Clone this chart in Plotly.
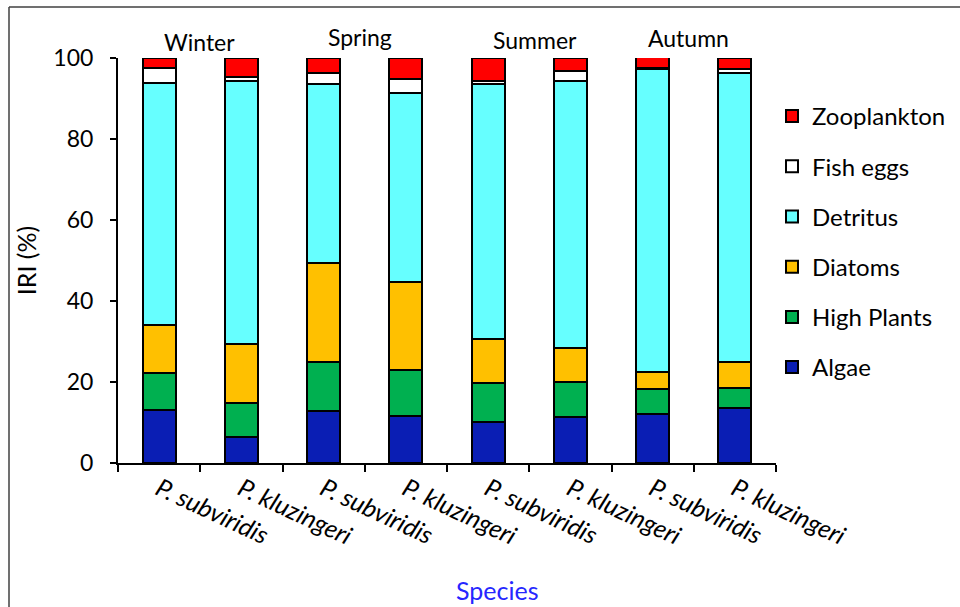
import plotly.graph_objects as go

species = ["P. subviridis", "P. kluzingeri", "P. subviridis ", "P. kluzingeri ",
           "P. subviridis  ", "P. kluzingeri  ", "P. subviridis   ", "P. kluzingeri   "]
seasons = ["Winter", "Spring", "Summer", "Autumn"]

algae = [13.1, 6.5, 12.8, 11.6, 10.2, 11.3, 12.0, 13.5]
high_plants = [9.2, 8.2, 12.1, 11.4, 9.6, 8.8, 6.2, 5.1]
diatoms = [11.8, 14.8, 24.4, 21.8, 10.8, 8.4, 4.3, 6.4]
detritus = [59.8, 64.7, 44.2, 46.6, 62.9, 65.7, 74.8, 71.2]
fish_eggs = [3.7, 1.2, 2.7, 3.3, 0.8, 2.6, 0.3, 1.2]
zooplankton = [2.4, 4.6, 3.8, 5.3, 5.7, 3.2, 2.7, 2.6]

series = [
    ("Algae", algae, "#0A1EB4"),
    ("High Plants", high_plants, "#00B050"),
    ("Diatoms", diatoms, "#FFC000"),
    ("Detritus", detritus, "#66FFFF"),
    ("Fish eggs", fish_eggs, "#FFFFFF"),
    ("Zooplankton", zooplankton, "#FF0000"),
]

FONT = "Lato"
fig = go.Figure()
n = len(series)
for i, (name, vals, col) in enumerate(series):
    fig.add_trace(go.Bar(
        x=species, y=vals, name=name, legendgroup=name, legendrank=n - i,
        marker=dict(color=col, line=dict(color="black", width=2)),
    ))

W, H = 960, 607
L, R, T, B = 118, 184, 58, 144
pw, ph = W - L - R, H - T - B
def px(x):
    return (x - L) / pw
def py(y):
    return (H - B - y) / ph

season_px = [199, 360, 535, 688]
season_py = [42, 37, 40, 38]
for s, sx, sy in zip(seasons, season_px, season_py):
    fig.add_annotation(text=s, x=px(sx), y=py(sy), xref="paper", yref="paper",
                       xanchor="center", yanchor="middle",
                       showarrow=False, font=dict(family=FONT, size=23, color="black"))

# x-axis title (placed right of centre, as in the original)
fig.add_annotation(text="Species", x=px(497), y=py(590), xref="paper", yref="paper",
                   xanchor="center", yanchor="middle", showarrow=False,
                   font=dict(family=FONT, size=25, color="#2626FF"))

# outer chart frame (left and top edges visible)
fig.add_shape(type="line", xref="paper", yref="paper", x0=px(9), x1=px(960), y0=py(7), y1=py(7),
              line=dict(color="#404040", width=1.5))
fig.add_shape(type="line", xref="paper", yref="paper", x0=px(9), x1=px(9), y0=py(7), y1=py(607),
              line=dict(color="#404040", width=1.5))

fig.update_layout(
    barmode="stack", bargap=0.6,
    width=W, height=H,
    margin=dict(l=L, r=R, t=T, b=B, autoexpand=False),
    plot_bgcolor="white", paper_bgcolor="white",
    font=dict(family=FONT, size=21, color="black"),
    showlegend=True,
    legend=dict(traceorder="grouped", tracegroupgap=16,
                x=px(772), y=py(94), xanchor="left", yanchor="top",
                font=dict(family=FONT, size=24, color="black"),
                itemclick=False),
    xaxis=dict(showline=True, linecolor="black", linewidth=2, ticks="outside",
               tickson="boundaries", ticklen=7, tickwidth=2, tickcolor="black",
               tickangle=25, showgrid=False,
               tickfont=dict(family=FONT, size=25, style="italic")),
    yaxis=dict(range=[0, 100], dtick=20, showline=True, linecolor="black", linewidth=2,
               ticks="outside", ticklen=6, tickwidth=2, tickcolor="black",
               ticklabelstandoff=12,
               tickfont=dict(family=FONT, size=23),
               showgrid=False, zeroline=False,
               title=dict(text="IRI (%)", font=dict(family=FONT, size=25), standoff=10)),
)

fig.write_html("out.html", config={"displayModeBar": False},
               post_script="document.body.style.margin='0';")
